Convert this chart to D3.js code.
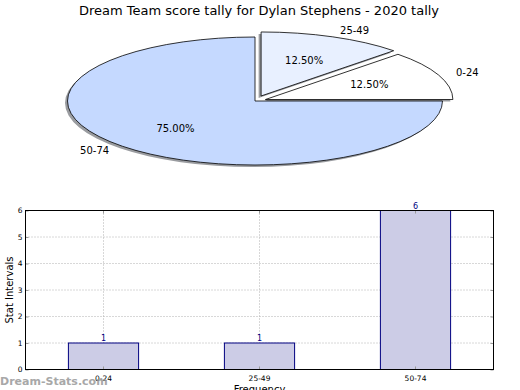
<!DOCTYPE html>
<html>
<head>
<meta charset="utf-8">
<script src="https://cdn.jsdelivr.net/npm/d3@7"></script>
<style>
  body { margin: 0; background: #fff; }
  svg { display: block; font-family: "DejaVu Sans", sans-serif; }
</style>
</head>
<body>
<svg width="520" height="390"></svg>
<script>
const categories = ['0-24', '25-49', '50-74']
const counts = [1, 1, 6]
const sliceColors = ['#ffffff', '#e8f0ff', '#c5d9ff']
const explode = [0.06, 0.085, 0]
const yTicks = [0, 1, 2, 3, 4, 5, 6]

const svg = d3.select('svg')

svg.append('text')
  .attr('x', 259).attr('y', 15)
  .attr('text-anchor', 'middle')
  .attr('font-size', 13)
  .text('Dream Team score tally for Dylan Stephens - 2020 tally')

// ---- pie (squashed, matplotlib style: starts at 3 o'clock, counter-clockwise)
const cx = 255
const cy = 101
const rx = 187.5
const ry = 64

const pie = d3.pie().sort(null).startAngle(Math.PI / 2).endAngle(Math.PI / 2 - 2 * Math.PI)
const arcs = pie(counts)
const arc = d3.arc().innerRadius(0).outerRadius(1)
const total = d3.sum(counts)

arcs.forEach((d, i) => {
  const mid = (d.startAngle + d.endAngle) / 2
  d.mid = mid
  d.ox = explode[i] * rx * Math.sin(mid)
  d.oy = -explode[i] * ry * Math.cos(mid)
})

const pieG = svg.append('g')

// shadows
pieG.selectAll('path.shadow')
  .data(arcs)
  .enter()
  .append('path')
  .attr('class', 'shadow')
  .attr('transform', d => `translate(${cx + d.ox - 2.5},${cy + d.oy + 2}) scale(${rx},${ry})`)
  .attr('d', arc)
  .attr('fill', '#9a9ca0')

pieG.selectAll('path.wedge')
  .data(arcs)
  .enter()
  .append('path')
  .attr('class', 'wedge')
  .attr('transform', d => `translate(${cx + d.ox},${cy + d.oy}) scale(${rx},${ry})`)
  .attr('d', arc)
  .attr('fill', (d, i) => sliceColors[i])
  .attr('stroke', '#000')
  .attr('stroke-width', 0.8)
  .attr('vector-effect', 'non-scaling-stroke')

// category labels (labeldistance 1.1)
pieG.selectAll('text.lab')
  .data(arcs)
  .enter()
  .append('text')
  .attr('class', 'lab')
  .attr('x', d => cx + d.ox + 1.1 * rx * Math.sin(d.mid))
  .attr('y', d => cy + d.oy - 1.1 * ry * Math.cos(d.mid))
  .attr('dy', '0.35em')
  .attr('text-anchor', d => Math.sin(d.mid) < 0 ? 'end' : 'start')
  .attr('font-size', 10)
  .text((d, i) => categories[i])

// percent labels (pctdistance 0.6)
pieG.selectAll('text.pct')
  .data(arcs)
  .enter()
  .append('text')
  .attr('class', 'pct')
  .attr('x', d => cx + d.ox + 0.6 * rx * Math.sin(d.mid))
  .attr('y', d => cy + d.oy - 0.6 * ry * Math.cos(d.mid))
  .attr('dy', '0.35em')
  .attr('text-anchor', 'middle')
  .attr('font-size', 10)
  .text(d => (d.data / total * 100).toFixed(2) + '%')

// ---- bar chart
const plotL = 25.5
const plotR = 493.5
const plotT = 210.5
const plotB = 369.5

const x = d3.scaleBand().domain(categories).range([plotL, plotR])
const y = d3.scaleLinear().domain([0, 6]).range([plotB, plotT])
const barW = x.bandwidth() * 0.45

const g = svg.append('g')

// grid
g.selectAll('line.gy')
  .data(yTicks)
  .enter()
  .append('line')
  .attr('x1', plotL).attr('x2', plotR)
  .attr('y1', d => y(d)).attr('y2', d => y(d))
  .attr('stroke', '#b0b0b0')
  .attr('stroke-dasharray', '1,2')

g.selectAll('line.gx')
  .data(categories)
  .enter()
  .append('line')
  .attr('x1', d => x(d) + x.bandwidth() / 2)
  .attr('x2', d => x(d) + x.bandwidth() / 2)
  .attr('y1', plotT).attr('y2', plotB)
  .attr('stroke', '#b0b0b0')
  .attr('stroke-dasharray', '1,2')

// bars
g.selectAll('rect.bar')
  .data(counts)
  .enter()
  .append('rect')
  .attr('x', (d, i) => x(categories[i]) + (x.bandwidth() - barW) / 2)
  .attr('y', d => y(d))
  .attr('width', barW)
  .attr('height', d => y(0) - y(d))
  .attr('fill', '#cccce6')
  .attr('stroke', '#000080')
  .attr('stroke-width', 1)

g.selectAll('text.val')
  .data(counts)
  .enter()
  .append('text')
  .attr('x', (d, i) => x(categories[i]) + x.bandwidth() / 2)
  .attr('y', d => y(d) - 2)
  .attr('text-anchor', 'middle')
  .attr('font-size', 8)
  .attr('fill', '#000080')
  .text(d => d)

// axes
const yAxisL = d3.axisLeft(y).tickValues(yTicks).tickFormat(d3.format('d')).tickSize(-3).tickPadding(3)
const yAxisR = d3.axisRight(y).tickValues(yTicks).tickSize(-3).tickFormat('')
const xAxisB = d3.axisBottom(x).tickSize(-3).tickPadding(6)
const xAxisT = d3.axisTop(x).tickSize(-3).tickFormat('')

function styleAxis (sel) {
  sel.select('.domain').remove()
  sel.selectAll('.tick line').attr('stroke', '#999')
  sel.selectAll('.tick text').attr('font-size', 7.5).attr('font-family', '"DejaVu Sans", sans-serif')
}

g.append('g').attr('transform', `translate(${plotL},0)`).call(yAxisL).call(styleAxis)
g.append('g').attr('transform', `translate(${plotR},0)`).call(yAxisR).call(styleAxis)
g.append('g').attr('transform', `translate(0,${plotB})`).call(xAxisB).call(styleAxis)
g.append('g').attr('transform', `translate(0,${plotT})`).call(xAxisT).call(styleAxis)

g.append('rect')
  .attr('x', plotL).attr('y', plotT)
  .attr('width', plotR - plotL).attr('height', plotB - plotT)
  .attr('fill', 'none')
  .attr('stroke', '#000')

svg.append('text')
  .attr('transform', `translate(13,${(plotT + plotB) / 2}) rotate(-90)`)
  .attr('text-anchor', 'middle')
  .attr('font-size', 10)
  .text('Stat Intervals')

svg.append('text')
  .attr('x', (plotL + plotR) / 2).attr('y', 393)
  .attr('text-anchor', 'middle')
  .attr('font-size', 10)
  .text('Frequency')

svg.append('text')
  .attr('x', 0).attr('y', 385)
  .attr('font-size', 11)
  .attr('font-weight', 'bold')
  .attr('fill', '#999')
  .attr('opacity', 0.85)
  .text('Dream-Stats.com')
</script>
</body>
</html>
